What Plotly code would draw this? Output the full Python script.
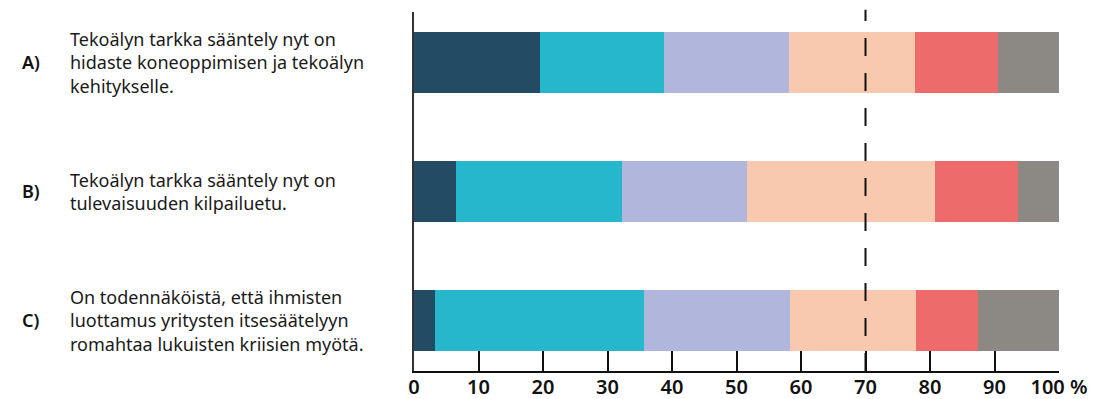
import plotly.graph_objects as go

# Statements (rows) and their short labels
row_ids = ["A)", "B)", "C)"]
statements = [
    "Tekoälyn tarkka sääntely nyt on<br>hidaste koneoppimisen ja tekoälyn<br>kehitykselle.",
    "Tekoälyn tarkka sääntely nyt on<br>tulevaisuuden kilpailuetu.",
    "On todennäköistä, että ihmisten<br>luottamus yritysten itsesäätelyyn<br>romahtaa lukuisten kriisien myötä.",
]

# Response shares (%) per answer option, one value per statement
share_1 = [19.5, 6.5, 3.2]
share_2 = [19.2, 25.7, 32.4]
share_3 = [19.4, 19.5, 22.7]
share_4 = [19.5, 29.0, 19.5]
share_5 = [12.9, 12.9, 9.6]
share_6 = [9.5, 6.4, 12.6]

series = [share_1, share_2, share_3, share_4, share_5, share_6]
series_names = ["1", "2", "3", "4", "5", "6"]
colors = ["#234B63", "#27B7CD", "#B0B6DC", "#F9C9AF", "#EE6B6B", "#8C8884"]

# Axis ticks and reference line
tick_vals = [0, 10, 20, 30, 40, 50, 60, 70, 80, 90, 100]
tick_text = ["0", "10", "20", "30", "40", "50", "60", "70", "80", "90", "100 %"]
reference_x = 70

fig = go.Figure()
for vals, name, col in zip(series, series_names, colors):
    fig.add_trace(go.Bar(
        y=row_ids, x=vals, name=name, orientation="h",
        marker=dict(color=col, line=dict(width=0)),
        hoverinfo="x+name",
    ))

fig.update_layout(
    barmode="stack",
    bargap=0.53,
    width=1102, height=399,
    margin=dict(l=414, r=43, t=12, b=28, autoexpand=False),
    paper_bgcolor="white", plot_bgcolor="white",
    showlegend=False,
    font=dict(family="Noto Sans", color="#1a1a1a"),
)

fig.update_xaxes(
    range=[0, 100],
    tickvals=tick_vals, ticktext=tick_text,
    ticks="inside", ticklen=20, tickwidth=2, tickcolor="#111",
    showline=True, linecolor="#111", linewidth=2,
    showgrid=False, zeroline=False, automargin=False,
    ticklabelstandoff=-3,
    tickfont=dict(size=20, family="Noto Sans", weight=600, color="#111"),
)
fig.update_yaxes(
    type="category",
    categoryorder="array", categoryarray=row_ids,
    range=[2.393, -0.39],
    showticklabels=False, ticks="",
    showline=True, linecolor="#333", linewidth=2,
    showgrid=False, zeroline=False, automargin=False,
)

# Dashed reference line
fig.add_shape(
    type="line", xref="x", yref="paper",
    x0=reference_x, x1=reference_x, y0=0, y1=1.006,
    line=dict(color="#111", width=2, dash="18px,17px"),
)

# Row labels on the left
for rid, text in zip(row_ids, statements):
    fig.add_annotation(
        xref="paper", yref="y", x=-0.594, y=rid,
        text=rid, showarrow=False, xanchor="center", yanchor="middle",
        font=dict(size=18, family="Noto Sans", weight=600, color="#111"),
    )
    fig.add_annotation(
        xref="paper", yref="y", x=-0.537, y=rid,
        text=text, showarrow=False, xanchor="left", yanchor="middle",
        align="left",
        font=dict(size=18, family="Noto Sans", color="#1a1a1a"),
    )

fig.write_html("out.html")
